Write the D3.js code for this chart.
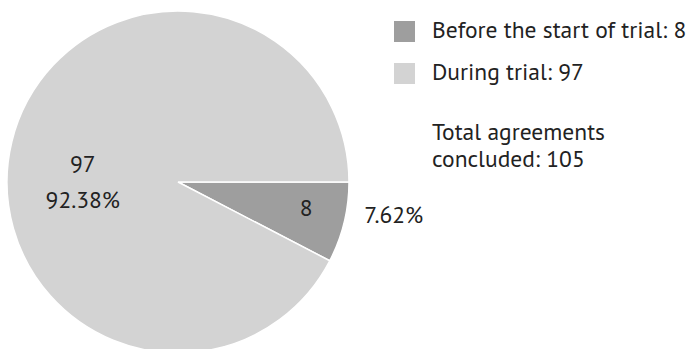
<!DOCTYPE html>
<html>
<head>
<meta charset="utf-8">
<script src="https://cdn.jsdelivr.net/npm/d3@7"></script>
<style>
  body { margin: 0; background: #fff; }
  text { font-family: "PT Sans", "Noto Sans", sans-serif; fill: #222; font-size: 23.5px; }
</style>
</head>
<body>
<div id="chart"></div>
<script>
// donnees
var categories = ["Before the start of trial", "During trial"];
var values = [8, 97];
var colors = ["#9e9e9e", "#d3d3d3"];
var totalLabel = ["Total agreements", "concluded: 105"];

var width = 692,
    height = 349,
    cx = 178,
    cy = 182,
    r = 171;

var total = d3.sum(values);

var svg = d3.select("#chart").append("svg")
    .attr("width", width)
    .attr("height", height);

var g = svg.append("g").attr("transform", "translate(" + cx + "," + cy + ")");

// la tranche sombre commence a 3 heures
var pie = d3.pie().sort(null)
    .startAngle(Math.PI / 2)
    .endAngle(Math.PI / 2 + 2 * Math.PI);

var arcs = pie(values);

var arc = d3.arc().innerRadius(0).outerRadius(r);

g.selectAll("path").data(arcs).enter().append("path")
    .attr("d", arc)
    .attr("fill", function(d, i) { return colors[i]; })
    .attr("stroke", "#fff")
    .attr("stroke-width", 1.5);

var fmt = function(v) { return (v / total * 100).toFixed(2) + "%"; };

// etiquette tranche claire (valeur + pourcentage)
var pLight = d3.arc().innerRadius(98).outerRadius(98).centroid(arcs[1]);
var lightLbl = g.append("text")
    .attr("x", pLight[0])
    .attr("y", pLight[1] + 21)
    .attr("text-anchor", "middle");
lightLbl.append("tspan").attr("x", pLight[0]).attr("dy", -8).text(values[1]);
lightLbl.append("tspan").attr("x", pLight[0]).attr("dy", 36).text(fmt(values[1]));

// etiquette tranche sombre
var pDark = d3.arc().innerRadius(131).outerRadius(131).centroid(arcs[0]);
g.append("text")
    .attr("x", pDark[0] + 1)
    .attr("y", pDark[1] + 3)
    .attr("text-anchor", "middle")
    .text(values[0]);

var pOut = d3.arc().innerRadius(219).outerRadius(219).centroid(arcs[0]);
g.append("text")
    .attr("x", pOut[0] + 3)
    .attr("y", pOut[1] - 11)
    .attr("text-anchor", "middle")
    .text(fmt(values[0]));

// legende
var leg = svg.append("g").attr("transform", "translate(394,21)");
var items = leg.selectAll("g").data(categories).enter().append("g")
    .attr("transform", function(d, i) { return "translate(0," + (i * 42) + ")"; });
items.append("rect")
    .attr("width", 21).attr("height", 21)
    .attr("fill", function(d, i) { return colors[i]; });
items.append("text")
    .attr("x", 38).attr("y", 17)
    .text(function(d, i) { return d + ": " + values[i]; });

var tot = leg.append("text").attr("y", 119);
tot.append("tspan").attr("x", 38).text(totalLabel[0]);
tot.append("tspan").attr("x", 38).attr("dy", 27).text(totalLabel[1]);
</script>
</body>
</html>
